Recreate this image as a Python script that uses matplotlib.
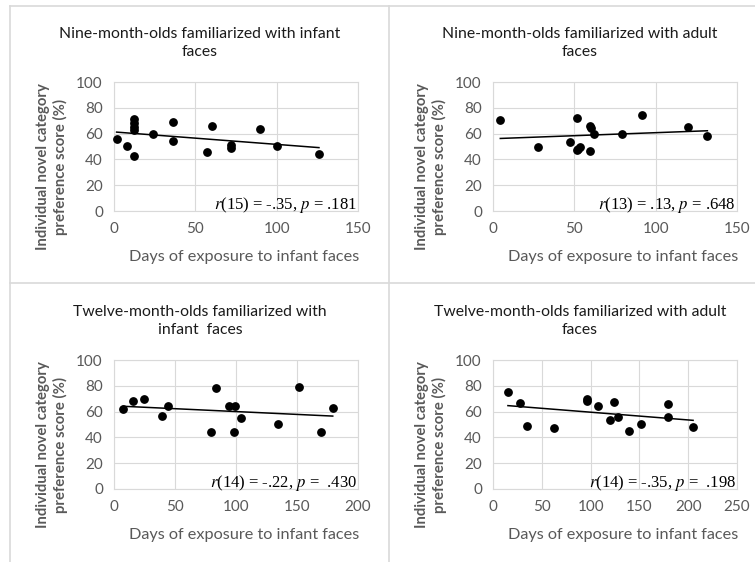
import matplotlib
matplotlib.use('Agg')
import matplotlib.pyplot as plt
from matplotlib.lines import Line2D
import numpy as np

# values
nine_inf_days = [1.6, 7.8, 12, 12, 12, 12, 12, 23.7, 36, 36, 57, 60, 72, 72, 90, 100, 126]
nine_inf_score = [56, 50.5, 42.5, 71.5, 68.5, 65.5, 62.5, 60, 69, 54.5, 46, 66, 51, 49, 63.5, 50.5, 44]

nine_adult_days = [4.5, 27.6, 47.6, 51.6, 51.6, 52.5, 53.7, 59.8, 60.4, 59.8, 62.2, 79.6, 91.6, 119.6, 131.8]
nine_adult_score = [70.5, 50, 53.7, 72, 47.3, 48, 49.4, 66, 64, 46.5, 60, 59.8, 74.4, 65.4, 58.1]

twelve_inf_days = [7.6, 15.8, 24.7, 39.7, 44.3, 79.6, 83.7, 94.6, 99.5, 98.6, 104.3, 134.2, 151.6, 169.6, 179.3]
twelve_inf_score = [62, 68.2, 69.8, 56.8, 64.6, 44.4, 78.3, 64.6, 64.3, 44.4, 55, 50.1, 79, 44.2, 62.5]

twelve_adult_days = [15.3, 27.3, 35.1, 62.1, 95.8, 96.5, 107.8, 119.7, 123.8, 127.6, 139.5, 151.4, 179.7, 179.7, 205]
twelve_adult_score = [75.5, 66.9, 49.1, 47.5, 68.5, 69.5, 64.3, 53.7, 67.4, 55.6, 45.2, 50.4, 65.6, 55.8, 48.1]

titles = ['Nine-month-olds familiarized with infant\nfaces',
          'Nine-month-olds familiarized with adult\nfaces',
          'Twelve-month-olds familiarized with\ninfant  faces',
          'Twelve-month-olds familiarized with adult\nfaces']
stats = [r'$r$(15) = -.35, $p$ = .181',
         r'$r$(13) = .13, $p$ = .648',
         r'$r$(14) = -.22, $p$ =  .430',
         r'$r$(14) = -.35, $p$ =  .198']
xmax = [150, 150, 200, 250]

plt.rcParams['mathtext.fontset'] = 'stix'

W, H = 755, 562
fig = plt.figure(figsize=(W / 100, H / 100), dpi=100)

def fx(px):
    return px / W

def fy(py):
    return 1 - py / H

grid_col = '#d9d9d9'
txt_col = '#595959'
sans = 'Lato'

# panel borders
for seg in [((10, 10), (6, H)), ((10, W), (6, 6)), ((389, 389), (6, H)), ((10, W), (283, 283))]:
    fig.add_artist(Line2D([fx(seg[0][0]), fx(seg[0][1])], [fy(seg[1][0]), fy(seg[1][1])],
                          color=grid_col, lw=1.2))

data = [(nine_inf_days, nine_inf_score), (nine_adult_days, nine_adult_score),
        (twelve_inf_days, twelve_inf_score), (twelve_adult_days, twelve_adult_score)]

ax_left = [114, 493]
ax_top = [82, 360]
cell_center = [200, 580]

for i, (days, score) in enumerate(data):
    col = i % 2
    row = i // 2
    l = ax_left[col]
    t = ax_top[row]
    ax = fig.add_axes([fx(l), fy(t + 129), 244 / W, 129 / H])
    ax.set_xlim(0, xmax[i])
    ax.set_ylim(0, 100)
    ax.set_xticks(np.arange(0, xmax[i] + 1, 50))
    ax.set_yticks(np.arange(0, 101, 20))
    ax.grid(True, color=grid_col, lw=0.8)
    ax.set_axisbelow(True)
    for s in ax.spines.values():
        s.set_color(grid_col)
        s.set_linewidth(0.8)
    ax.tick_params(length=0, labelsize=11, labelcolor=txt_col, pad=8)
    for lab in ax.get_xticklabels() + ax.get_yticklabels():
        lab.set_family(sans)

    ax.scatter(days, score, s=28, color='black', zorder=3, clip_on=False)
    k, b = np.polyfit(days, score, 1)
    xs = np.array([min(days), max(days)])
    ax.plot(xs, k * xs + b, color='black', lw=1.1, zorder=2)

    ax.text(0.995, 0.015, stats[i], transform=ax.transAxes, ha='right', va='baseline',
            fontsize=12, family='Liberation Serif', color='black')

    fig.text(fx(cell_center[col]), fy(t - 39), titles[i], ha='center', va='center',
             fontsize=11.3, family=sans, color='#1a1a1a', linespacing=1.35)
    fig.text(fx(l - 62), fy(t + 85), 'Individual novel category\npreference score (%)',
             rotation=90, ha='center', va='center', fontsize=10.7, family=sans,
             fontweight='bold', color=txt_col, linespacing=1.2)
    fig.text(fx(l + 130), fy(t + 175), 'Days of exposure to infant faces', ha='center',
             va='center', fontsize=11.7, family=sans, color=txt_col)

fig.savefig('out.png', dpi=100)
